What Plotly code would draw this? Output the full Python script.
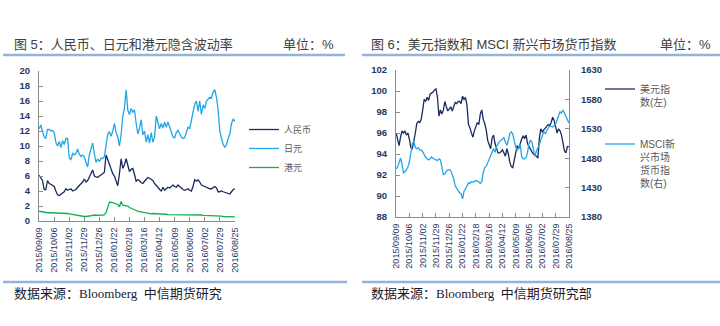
import pandas as pd
import plotly.graph_objects as go

W, H = 720, 326

# ---------------- data ----------------
dates = pd.date_range("2015-09-09", "2016-08-25", freq="3D")

tick_labels = ["2015/09/09", "2015/10/06", "2015/11/02", "2015/11/29", "2015/12/26",
               "2016/01/22", "2016/02/18", "2016/03/16", "2016/04/12", "2016/05/09",
               "2016/06/05", "2016/07/02", "2016/07/29", "2016/08/25"]

cny = [6.1, 5.8, 5.4, 4.2, 4.2, 5.4, 5.0, 4.9, 4.8, 4.6,
       4.0, 3.5, 3.4, 3.6, 3.8, 3.9, 4.3, 4.1, 4.2, 4.3,
       4.0, 4.1, 4.2, 4.5, 4.7, 4.9, 5.2, 5.6, 5.2, 5.4,
       5.8, 6.4, 6.8, 6.0, 5.9, 5.8, 6.0, 6.1, 6.3, 6.5,
       8.8, 8.2, 7.6, 7.0, 6.3, 6.0, 5.2, 4.7, 6.3, 8.3,
       7.0, 7.5, 8.3, 7.5, 6.6, 6.9, 7.0, 6.2, 5.3, 5.5,
       5.4, 5.1, 5.0, 5.3, 5.5, 5.8, 5.7, 5.5, 5.4, 5.0,
       4.8, 4.5, 4.2, 4.0, 4.5, 4.1, 4.3, 4.5, 4.4, 4.6,
       4.8, 4.6, 4.5, 4.8, 4.6, 4.3, 4.2, 4.1, 4.2, 4.3,
       4.1, 4.0, 4.6, 5.5, 5.3, 5.5, 5.2, 4.8, 4.7, 4.6,
       4.4, 4.3, 4.3, 4.3, 4.4, 4.6, 4.4, 3.9, 3.9, 4.0,
       3.9, 3.8, 3.8, 3.7, 3.6, 3.9, 4.2, 4.3]

jpy = [12.3, 12.8, 12.0, 11.2, 11.0, 12.2, 12.2, 12.0, 12.1, 11.8,
       10.5, 10.0, 10.6, 9.8, 10.7, 10.2, 11.0, 11.0, 8.4, 8.2,
       9.0, 8.8, 9.0, 9.6, 8.9, 8.6, 8.8, 8.6, 7.8, 7.2,
       8.8, 9.6, 10.4, 9.0, 7.8, 8.3, 7.9, 8.4, 8.3, 8.6,
       10.0, 11.6, 11.9, 11.3, 12.0, 13.0, 11.8, 11.2, 10.0, 11.5,
       14.0, 15.0, 17.5, 14.8, 14.2, 15.0, 14.5, 14.8, 13.0, 11.6,
       12.4, 13.5, 11.5, 12.0, 10.5, 11.5, 10.4, 11.8, 10.5, 11.2,
       14.0, 13.0, 12.3, 13.0, 12.4, 13.2, 12.5, 13.2, 12.5, 11.6,
       11.2, 11.1, 11.8, 12.1, 11.6, 11.2, 11.0, 11.1, 11.8, 12.5,
       12.3, 13.5, 14.8, 15.6, 16.0, 14.6, 16.0, 14.2, 15.5, 15.0,
       16.0, 16.3, 16.5, 16.4, 17.2, 17.5, 16.5, 14.8, 12.0, 11.0,
       10.2, 9.8, 10.2, 11.0, 11.6, 13.0, 13.6, 13.3]

hkd = [1.3, 1.25, 1.2, 1.1, 1.1, 1.1, 1.1, 1.1, 1.1, 1.1,
       1.1, 1.1, 1.1, 1.1, 1.05, 1.05, 1.0, 1.0, 0.95, 0.9,
       0.85, 0.8, 0.75, 0.7, 0.65, 0.65, 0.6, 0.6, 0.6, 0.6,
       0.65, 0.7, 0.75, 0.8, 0.8, 0.75, 0.8, 0.8, 0.8, 0.85,
       1.1, 1.8, 2.5, 2.5, 2.4, 2.4, 2.3, 2.2, 1.9, 2.6,
       2.1, 2.1, 2.0, 2.0, 1.8, 1.7, 1.6, 1.4, 1.4, 1.3,
       1.25, 1.2, 1.2, 1.1, 1.0, 0.95, 0.95, 0.95, 1.0, 1.0,
       1.0, 0.95, 0.95, 0.95, 0.9, 0.9, 0.9, 0.85, 0.85, 0.85,
       0.8, 0.8, 0.8, 0.85, 0.9, 0.85, 0.8, 0.8, 0.8, 0.8,
       0.85, 0.85, 0.9, 0.85, 0.85, 0.8, 0.8, 0.8, 0.75, 0.75,
       0.75, 0.7, 0.7, 0.7, 0.7, 0.7, 0.65, 0.65, 0.65, 0.65,
       0.6, 0.6, 0.6, 0.6, 0.6, 0.6, 0.6, 0.55]

dxy = [96.0, 95.4, 94.8, 95.6, 96.2, 96.0, 96.2, 95.8, 96.0, 95.4,
       94.6, 94.5, 95.5, 96.0, 96.9, 97.1, 97.0, 97.3, 98.2, 99.2,
       99.0, 99.4, 99.1, 99.7, 99.8, 99.9, 100.1, 100.2, 99.4, 97.6,
       98.2, 97.8, 98.2, 99.0, 98.5, 98.1, 98.3, 98.5, 98.1, 98.6,
       98.9, 98.8, 99.0, 99.0, 98.8, 99.5, 99.2, 99.4, 98.6, 96.8,
       96.5, 96.0, 95.6, 96.2, 96.7, 97.0, 96.8, 97.8, 98.2, 97.3,
       96.9, 96.3, 95.3, 94.9, 94.5, 95.5, 95.8, 95.0, 94.4, 94.1,
       94.1, 94.2, 94.4, 94.0, 93.8, 94.5, 94.0, 93.2, 92.8, 92.7,
       93.5, 94.3, 94.8, 94.5, 95.0, 95.4, 95.7, 95.5, 95.8, 95.0,
       94.7, 94.4, 94.2, 94.0, 93.9, 93.8, 93.6, 95.5, 96.4, 96.1,
       96.3, 96.5, 96.6, 96.8, 96.7, 97.0, 97.5, 97.2, 96.6, 96.0,
       96.4, 96.2, 95.8, 95.0, 94.3, 94.1, 94.7, 94.7]

msci = [1462, 1465, 1473, 1480, 1470, 1455, 1457, 1462, 1465, 1474,
        1488, 1505, 1508, 1498, 1496, 1498, 1494, 1494, 1491, 1486,
        1481, 1479, 1477, 1479, 1482, 1480, 1478, 1477, 1476, 1479,
        1477, 1466, 1452, 1453, 1458, 1460, 1461, 1459, 1453, 1445,
        1433, 1428, 1425, 1421, 1420, 1411, 1424, 1428, 1432, 1438,
        1437, 1440, 1439, 1440, 1442, 1441, 1440, 1437, 1440, 1455,
        1464, 1466, 1472, 1480, 1484, 1489, 1496, 1490, 1500, 1504,
        1509, 1510, 1512, 1515, 1507, 1502, 1510, 1522, 1525, 1521,
        1510, 1499, 1494, 1497, 1505, 1483, 1479, 1479, 1481, 1490,
        1505, 1511, 1507, 1494, 1483, 1492, 1497, 1503, 1511, 1520,
        1525, 1522, 1528, 1531, 1535, 1534, 1533, 1535, 1538, 1545,
        1553, 1559, 1557, 1562, 1557, 1551, 1548, 1540]

# ---------------- style ----------------
NAVY = "#1B2A5C"
LBLUE = "#23A6E6"
GREEN = "#13AE4F"
AXIS = "#8C8C8C"
TICKC = "#1F3864"
RULE = "#95B3D7"
CJK = "Liberation Sans, Noto Sans CJK SC"
SERIF = "Liberation Serif, Noto Sans CJK SC"

tickvals = [pd.Timestamp(t.replace("/", "-")) for t in tick_labels]

def px(x):
    return x / W

def py(y):
    return 1 - y / H

fig = go.Figure()
lw = 1.3
fig.add_trace(go.Scatter(x=dates, y=cny, name="人民币", mode="lines",
                         line=dict(color=NAVY, width=lw), xaxis="x", yaxis="y", legend="legend"))
fig.add_trace(go.Scatter(x=dates, y=jpy, name="日元", mode="lines",
                         line=dict(color=LBLUE, width=lw), xaxis="x", yaxis="y", legend="legend"))
fig.add_trace(go.Scatter(x=dates, y=hkd, name="港元", mode="lines",
                         line=dict(color=GREEN, width=lw), xaxis="x", yaxis="y", legend="legend"))
fig.add_trace(go.Scatter(x=dates, y=dxy, name="美元指<br>数(左)", mode="lines",
                         line=dict(color=NAVY, width=lw), xaxis="x2", yaxis="y2",
                         legend="legend2", legendgroup="a"))
fig.add_trace(go.Scatter(x=dates, y=msci, name="MSCI新<br>兴市场<br>货币指<br>数(右)", mode="lines",
                         line=dict(color=LBLUE, width=lw), xaxis="x2", yaxis="y3",
                         legend="legend2", legendgroup="b"))

xr = [pd.Timestamp("2015-09-09") - pd.Timedelta(hours=6), pd.Timestamp("2016-08-25") + pd.Timedelta(hours=6)]

xcommon = dict(type="date", range=xr, tickvals=tickvals, ticktext=tick_labels, tickangle=-90,
               showline=True, linecolor=AXIS, linewidth=1, ticks="inside", ticklen=4,
               tickcolor=AXIS, showgrid=False, zeroline=False, automargin=False,
               tickfont=dict(size=9, color=TICKC, family="Liberation Sans"), ticklabelstandoff=2)
ycommon = dict(showline=True, linecolor=AXIS, linewidth=1, ticks="inside", ticklen=4,
               tickcolor=AXIS, showgrid=False, zeroline=False, automargin=False,
               tickfont=dict(size=9.5, color=TICKC, family="Liberation Sans", weight="bold"))

fig.update_layout(
    width=W, height=H, autosize=False,
    margin=dict(l=0, r=0, t=0, b=0),
    paper_bgcolor="white", plot_bgcolor="white",
    font=dict(family=CJK, color="#404040"),
    xaxis=dict(domain=[px(39), px(235)], anchor="y", **xcommon),
    yaxis=dict(domain=[py(221), py(71)], anchor="x", range=[0, 20], dtick=2,
               ticklabelstandoff=6, **ycommon),
    xaxis2=dict(domain=[px(396), px(569)], anchor="y2", **xcommon),
    yaxis2=dict(domain=[py(217), py(70)], anchor="x2", range=[88, 102], dtick=2,
                ticklabelstandoff=6, **ycommon),
    yaxis3=dict(overlaying="y2", side="right", anchor="x2", range=[1380, 1630], tick0=1380, dtick=50,
                ticklabelstandoff=9, **ycommon),
    legend=dict(x=px(244), y=py(115), xanchor="left", yanchor="top",
                font=dict(size=9, color="#595959", family=CJK),
                bgcolor="rgba(0,0,0,0)", itemwidth=30, traceorder="normal"),
    legend2=dict(x=px(600), y=py(76), xanchor="left", yanchor="top",
                 font=dict(size=10, color="#595959", family=CJK),
                 bgcolor="rgba(0,0,0,0)", itemwidth=30, traceorder="grouped",
                 tracegroupgap=26, valign="top"),
    showlegend=True,
)

# titles
ann = []
def text(x, y, s, size=13, color="#404040", family=CJK, anchor="left"):
    ann.append(dict(x=px(x), y=py(y), xref="paper", yref="paper", text=s, showarrow=False,
                    xanchor=anchor, yanchor="middle", font=dict(size=size, color=color, family=family)))

text(12, 45, "图 5：人民币、日元和港元隐含波动率")
text(336, 45, "单位：%", anchor="right")
text(369, 45, "图 6：美元指数和 MSCI 新兴市场货币指数")
text(713, 45, "单位：%", anchor="right")
text(12, 293, "数据来源：Bloomberg  中信期货研究", color="#1A1A2E", family=SERIF)
text(369, 293, "数据来源：Bloomberg  中信期货研究部", color="#1A1A2E", family=SERIF)
fig.update_layout(annotations=ann)

shapes = []
for x0, x1, y in [(3, 345, 55), (362, 720, 55), (3, 347, 282), (362, 720, 282)]:
    shapes.append(dict(type="line", xref="paper", yref="paper", x0=px(x0), x1=px(x1),
                       y0=py(y), y1=py(y), line=dict(color=RULE, width=2.5)))
fig.update_layout(shapes=shapes)

fig.write_html("out.html")
